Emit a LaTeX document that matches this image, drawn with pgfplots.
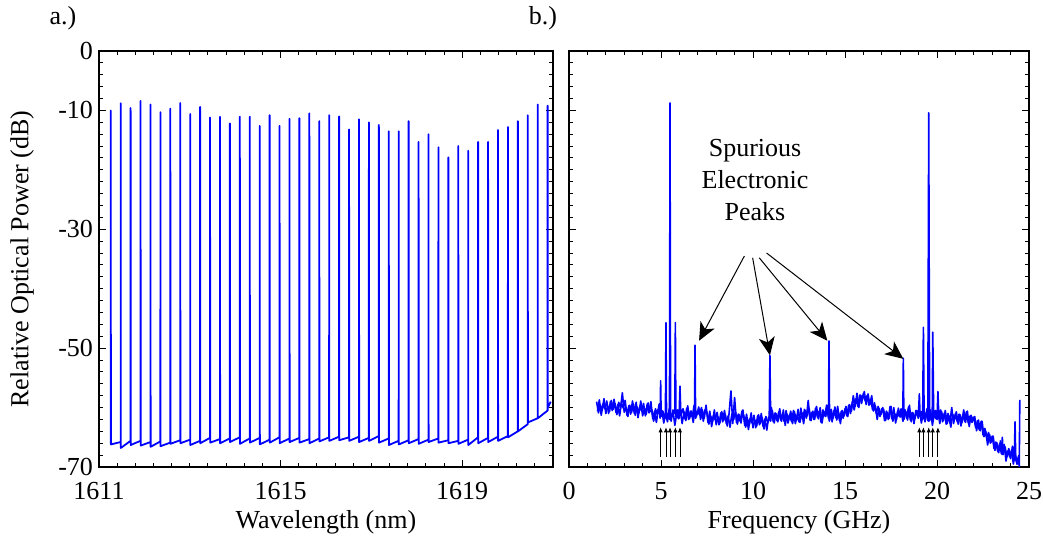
\documentclass[border=0pt]{standalone}
\usepackage{fontspec}
\setmainfont{Liberation Serif}
\usepackage{pgfplots}
\pgfplotsset{compat=1.18}
\usetikzlibrary{arrows.meta}
\definecolor{trace}{RGB}{0,0,255}
\begin{document}
\begin{tikzpicture}[x=1pt,y=1pt,font=\fontsize{13}{15.6}\selectfont]
\useasboundingbox (0,0) rectangle (521.5,272);
\pgfplotsset{
  myaxis/.style={
    anchor=south west, scale only axis, height=208pt,
    ymin=-70, ymax=0,
    tick align=inside, major tick length=3.5pt, minor tick length=2pt,
    every tick/.style={black, line width=0.5pt},
    axis line style={line width=0.8pt},
    ytick={-70,-50,-30,-10,0},
    minor ytick={-68,-66,...,-2},
    xticklabel style={anchor=base, yshift=-16.5pt, inner sep=0pt},
    yticklabel style={anchor=east, xshift=0.5pt},
    x label style={anchor=center, rotate=0},
    y label style={anchor=center},
  }
}
% ---------------- a.) ----------------
\begin{axis}[myaxis,
  at={(49.5pt,38.5pt)}, width=227pt,
  xmin=1611, xmax=1621,
  xtick={1611,1615,1619}, xticklabels={1611,1615,1619},
  minor xtick={1611.4,1611.8,...,1620.7},
  yticklabels={-70,-50,-30,-10,0},
  xlabel={Wavelength (nm)},
  xlabel style={at={(axis description cs:0.5,-0.1322)}},
  ylabel={Relative Optical Power (dB)},
  ylabel style={at={(axis description cs:-0.1696,0.5)}, rotate=0},
]
\addplot[trace, line width=0.9pt, line join=round] coordinates {
(1611.258,-66.2)(1611.259,-10.0)(1611.262,-66.2)
(1611.477,-65.8)(1611.478,-8.8)(1611.481,-66.8)
(1611.695,-65.6)(1611.696,-9.6)(1611.699,-66.3)
(1611.914,-65.6)(1611.915,-8.4)(1611.918,-66.4)
(1612.133,-65.8)(1612.134,-9.0)(1612.137,-66.6)
(1612.352,-65.7)(1612.353,-10.3)(1612.356,-66.5)
(1612.570,-65.9)(1612.571,-9.7)(1612.574,-66.1)
(1612.789,-65.5)(1612.790,-8.75)(1612.793,-66.0)
(1613.008,-65.4)(1613.009,-10.6)(1613.012,-66.3)
(1613.226,-65.6)(1613.227,-9.4)(1613.230,-66.0)
(1613.445,-65.1)(1613.446,-11.2)(1613.449,-65.9)
(1613.664,-65.3)(1613.665,-11.05)(1613.668,-66.0)
(1613.882,-65.2)(1613.883,-12.2)(1613.886,-65.8)
(1614.101,-65.0)(1614.102,-11.05)(1614.105,-66.1)
(1614.320,-65.2)(1614.321,-11.05)(1614.324,-65.9)
(1614.539,-65.1)(1614.540,-12.6)(1614.543,-66.2)
(1614.757,-65.4)(1614.758,-10.8)(1614.761,-65.9)
(1614.976,-65.0)(1614.977,-12.6)(1614.980,-66.0)
(1615.195,-65.2)(1615.196,-11.4)(1615.199,-65.8)
(1615.413,-65.1)(1615.414,-11.3)(1615.417,-65.9)
(1615.632,-65.3)(1615.633,-10.5)(1615.636,-66.0)
(1615.851,-65.2)(1615.852,-11.8)(1615.855,-65.7)
(1616.069,-65.0)(1616.070,-10.8)(1616.073,-65.6)
(1616.288,-64.9)(1616.289,-11.0)(1616.292,-65.5)
(1616.507,-65.0)(1616.508,-13.2)(1616.511,-65.6)
(1616.726,-64.9)(1616.727,-11.5)(1616.730,-65.8)
(1616.944,-65.1)(1616.945,-12.0)(1616.948,-65.6)
(1617.163,-64.8)(1617.164,-12.45)(1617.167,-65.9)
(1617.382,-65.2)(1617.383,-13.5)(1617.386,-66.3)
(1617.600,-65.6)(1617.601,-13.5)(1617.604,-66.2)
(1617.819,-65.5)(1617.820,-11.8)(1617.823,-66.0)
(1618.038,-65.3)(1618.039,-15.3)(1618.042,-66.1)
(1618.256,-65.4)(1618.257,-14.0)(1618.260,-65.8)
(1618.475,-65.2)(1618.476,-16.2)(1618.479,-65.9)
(1618.694,-65.5)(1618.695,-17.9)(1618.698,-66.0)
(1618.913,-65.6)(1618.914,-16.0)(1618.917,-66.1)
(1619.131,-65.4)(1619.132,-16.8)(1619.135,-66.3)
(1619.350,-65.0)(1619.351,-15.3)(1619.354,-66.0)
(1619.569,-65.1)(1619.570,-15.3)(1619.573,-65.8)
(1619.787,-64.9)(1619.788,-13.3)(1619.791,-65.6)
(1620.006,-64.8)(1620.007,-12.8)(1620.010,-65.0)
(1620.225,-64.0)(1620.226,-11.8)(1620.229,-64.0)
(1620.443,-62.8)(1620.444,-10.8)(1620.447,-62.5)
(1620.662,-61.8)(1620.663,-9.0)(1620.666,-61.8)
(1620.881,-60.5)(1620.882,-9.2)(1620.885,-60.0)
(1620.950,-59.0)
};
\end{axis}
% ---------------- b.) ----------------
\begin{axis}[myaxis,
  at={(284.5pt,38.5pt)}, width=230pt,
  xmin=0, xmax=25,
  xtick={0,5,10,15,20,25}, xticklabels={0,5,10,15,20,25},
  minor xtick={1,2,3,4,6,7,8,9,11,12,13,14,16,17,18,19,21,22,23,24},
  yticklabels={},
  xlabel={Frequency (GHz)},
  xlabel style={at={(axis description cs:0.5,-0.1322)}},
]
% second noise sweep of the floor (interleaved samples)
\addplot[trace, line width=0.8pt, line join=round] coordinates {
(1.55,-60.6)(1.65,-58.7)(1.75,-61.3)(1.85,-59.4)(1.95,-60.2)(2.05,-58.9)(2.15,-61.0)(2.25,-59.0)(2.35,-60.5)(2.45,-58.6)
(2.55,-60.8)(2.65,-59.5)(2.75,-61.4)(2.85,-59.2)(2.95,-60.1)(3.05,-58.8)(3.15,-61.3)(3.25,-59.7)(3.35,-61.1)(3.45,-58.9)
(3.55,-61.0)(3.65,-59.1)(3.75,-61.7)(3.85,-59.8)(3.95,-60.6)(4.05,-59.3)(4.15,-61.4)(4.25,-59.4)(4.35,-60.9)(4.45,-59.0)
(4.55,-61.9)(4.65,-60.6)(4.75,-62.5)(4.85,-60.3)(4.95,-61.2)(5.05,-60.5)(5.15,-62.6)(5.25,-61.0)(5.35,-62.4)(5.45,-60.2)
(5.55,-62.3)(5.65,-60.4)(5.75,-63.0)(5.85,-61.1)(5.95,-61.9)(6.05,-60.6)(6.15,-62.7)(6.25,-60.7)(6.35,-62.2)(6.45,-59.7)
(6.55,-61.9)(6.65,-60.6)(6.75,-62.5)(6.85,-60.3)(6.95,-61.2)(7.05,-59.9)(7.15,-62.0)(7.25,-60.4)(7.35,-61.8)(7.45,-59.6)
(7.55,-62.5)(7.65,-60.6)(7.75,-63.2)(7.85,-61.3)(7.95,-62.1)(8.05,-60.8)(8.15,-62.9)(8.25,-60.9)(8.35,-62.4)(8.45,-60.5)
(8.55,-62.7)(8.65,-61.4)(8.75,-63.3)(8.85,-61.1)(8.95,-62.0)(9.05,-60.7)(9.15,-62.8)(9.25,-61.2)(9.35,-62.6)(9.45,-60.4)
(9.55,-63.0)(9.65,-61.1)(9.75,-63.7)(9.85,-61.8)(9.95,-62.6)(10.05,-61.3)(10.15,-63.4)(10.25,-61.4)(10.35,-62.9)(10.45,-61.0)
(10.55,-63.2)(10.65,-61.9)(10.75,-63.8)(10.85,-61.6)(10.95,-61.8)(11.05,-60.5)(11.15,-62.6)(11.25,-61.0)(11.35,-62.4)(11.45,-60.2)
(11.55,-62.3)(11.65,-60.4)(11.75,-63.0)(11.85,-61.1)(11.95,-61.9)(12.05,-60.6)(12.15,-62.7)(12.25,-60.7)(12.35,-62.2)(12.45,-60.3)
(12.55,-62.5)(12.65,-60.8)(12.75,-62.7)(12.85,-60.5)(12.95,-61.4)(13.05,-60.1)(13.15,-62.2)(13.25,-60.6)(13.35,-62.0)(13.45,-59.8)
(13.55,-61.9)(13.65,-60.0)(13.75,-62.6)(13.85,-60.7)(13.95,-61.5)(14.05,-60.2)(14.15,-62.3)(14.25,-60.3)(14.35,-61.8)(14.45,-59.9)
(14.55,-62.1)(14.65,-60.8)(14.75,-62.7)(14.85,-60.5)(14.95,-61.4)(15.05,-59.8)(15.15,-61.5)(15.25,-59.5)(15.35,-60.6)(15.45,-58.0)
(15.55,-59.8)(15.65,-57.6)(15.75,-60.0)(15.85,-57.9)(15.95,-58.6)(16.05,-57.3)(16.15,-59.5)(16.25,-57.7)(16.35,-59.5)(16.45,-58.0)
(16.55,-60.6)(16.65,-59.7)(16.75,-62.0)(16.85,-60.1)(16.95,-61.2)(17.05,-60.0)(17.15,-62.2)(17.25,-60.6)(17.35,-62.0)(17.45,-59.8)
(17.55,-61.9)(17.65,-60.0)(17.75,-62.6)(17.85,-60.7)(17.95,-61.5)(18.05,-60.2)(18.15,-62.3)(18.25,-60.3)(18.35,-61.8)(18.45,-59.9)
(18.55,-62.1)(18.65,-60.8)(18.75,-62.7)(18.85,-60.5)(18.95,-61.4)(19.05,-60.5)(19.15,-62.6)(19.25,-61.0)(19.35,-62.4)(19.45,-60.2)
(19.55,-62.3)(19.65,-60.4)(19.75,-63.0)(19.85,-61.1)(19.95,-61.9)(20.05,-60.6)(20.15,-62.7)(20.25,-60.7)(20.35,-62.2)(20.45,-60.5)
(20.55,-62.7)(20.65,-61.4)(20.75,-63.3)(20.85,-61.1)(20.95,-62.0)(21.05,-60.7)(21.15,-62.8)(21.25,-61.2)(21.35,-62.6)(21.45,-60.4)
(21.55,-62.5)(21.65,-60.6)(21.75,-63.2)(21.85,-61.3)(21.95,-62.1)(22.05,-61.5)(22.15,-63.9)(22.25,-62.1)(22.35,-63.9)(22.45,-62.3)
(22.55,-64.9)(22.65,-64.0)(22.75,-66.3)(22.85,-64.5)(22.95,-65.8)(23.05,-64.8)(23.15,-67.2)(23.25,-65.9)(23.35,-67.6)(23.45,-65.6)
(23.55,-67.9)(23.65,-66.2)(23.75,-69.0)(23.85,-67.3)(23.95,-68.3)(24.05,-67.2)(24.15,-69.5)(24.25,-67.7)(24.35,-69.5)(24.45,-68.0)
};
\addplot[trace, line width=0.8pt, line join=round] coordinates {
(1.5,-59.0)(1.6,-60.9)(1.7,-59.5)(1.8,-60.5)(1.9,-58.5)(2.0,-61.0)(2.1,-59.7)(2.2,-60.7)(2.3,-58.8)(2.4,-60.3)
(2.5,-59.3)(2.6,-61.2)(2.7,-59.1)(2.8,-60.1)(2.9,-57.5)(3.0,-60.8)(3.1,-60.0)(3.2,-61.5)(3.3,-59.6)(3.4,-60.8)
(3.5,-59.4)(3.6,-61.3)(3.7,-59.9)(3.8,-60.9)(3.9,-58.9)(4.0,-61.4)(4.1,-60.1)(4.2,-61.1)(4.3,-59.2)(4.4,-60.7)
(4.5,-60.4)(4.6,-62.3)(4.7,-60.2)(4.8,-61.2)(4.9,-59.4)
(4.95,-61.8)(4.98,-55.5)(5.01,-61.5)(5.1,-60.6)(5.2,-61.9)(5.24,-61.0)(5.27,-45.7)(5.30,-61.5)(5.38,-61.0)
(5.46,-62.0)(5.49,-8.75)(5.52,-62.0)(5.6,-61.2)(5.7,-60.5)(5.75,-61.0)(5.78,-45.7)(5.81,-61.5)(5.9,-60.4)
(5.98,-61.8)(6.03,-56.4)(6.08,-61.3)(6.2,-60.2)(6.3,-61.9)
(6.4,-60.1)(6.5,-62.0)(6.6,-60.6)(6.7,-61.6)(6.8,-59.6)(6.82,-61.5)(6.85,-49.5)(6.88,-61.8)
(7.0,-60.8)(7.1,-61.2)(7.2,-60.0)(7.3,-62.3)(7.4,-60.3)
(7.5,-60.9)(7.6,-62.8)(7.7,-61.4)(7.8,-62.4)(7.9,-60.4)(8.0,-62.9)(8.1,-61.6)(8.2,-62.6)(8.3,-60.7)(8.4,-62.2)
(8.5,-61.2)(8.6,-63.1)(8.7,-61.0)(8.8,-57.2)(8.9,-62.7)(9.0,-58.3)(9.1,-62.5)(9.2,-61.1)(9.3,-62.3)(9.4,-60.6)
(9.5,-61.4)(9.6,-63.3)(9.7,-61.9)(9.8,-62.9)(9.9,-60.9)(10.0,-63.4)(10.1,-62.1)(10.2,-63.1)(10.3,-61.2)(10.4,-62.7)
(10.5,-61.7)(10.6,-63.6)(10.7,-61.5)(10.8,-62.5)(10.88,-62.0)(10.92,-51.2)(10.96,-62.3)
(11.0,-60.0)(11.1,-62.4)(11.2,-60.9)(11.3,-62.2)(11.4,-60.7)(11.5,-62.1)(11.6,-61.2)(11.7,-62.4)(11.8,-60.5)(11.9,-62.6)
(12.0,-61.4)(12.1,-62.4)(12.2,-60.5)(12.3,-62.7)(12.4,-61.4)(12.5,-62.4)
(12.6,-60.1)(12.7,-62.0)(12.8,-60.3)(12.9,-61.8)(13.0,-58.8)(13.1,-62.1)(13.2,-60.8)(13.3,-62.0)(13.4,-60.1)(13.5,-61.6)
(13.6,-60.6)(13.7,-62.5)(13.8,-60.4)(13.9,-61.4)(14.0,-59.6)(14.10,-61.8)(14.13,-48.8)(14.16,-62.0)
(14.2,-60.4)(14.3,-62.4)(14.4,-60.5)(14.5,-61.7)(14.6,-59.8)(14.7,-62.2)(14.8,-60.6)
(14.9,-61.8)(15.0,-60.2)(15.1,-61.4)(15.2,-59.6)(15.3,-61.0)(15.4,-59.0)(15.5,-60.4)(15.6,-58.5)(15.7,-59.8)(15.8,-57.9)
(15.9,-59.3)(16.0,-57.6)(16.1,-58.9)(16.2,-58.0)(16.3,-59.6)(16.4,-58.7)(16.5,-60.4)(16.6,-59.2)(16.7,-61.0)(16.8,-59.8)
(16.9,-61.5)(17.0,-60.2)
(17.1,-60.3)(17.2,-62.2)(17.3,-60.8)(17.4,-61.8)(17.5,-59.8)(17.6,-62.3)(17.7,-61.0)(17.8,-62.0)(17.9,-60.1)(18.0,-61.6)
(18.1,-60.8)(18.14,-62.2)(18.17,-51.7)(18.20,-62.0)
(18.3,-60.6)(18.4,-62.1)(18.5,-59.6)(18.6,-62.4)(18.7,-60.9)(18.8,-61.9)(18.9,-60.5)
(18.98,-61.8)(19.04,-57.7)(19.08,-61.5)(19.16,-60.7)(19.22,-62.0)(19.26,-46.5)(19.30,-61.8)(19.40,-60.9)(19.50,-62.2)
(19.55,-10.4)(19.60,-62.2)(19.70,-61.0)(19.74,-61.8)(19.77,-47.3)(19.82,-61.7)(19.92,-60.5)(20.00,-62.0)(20.05,-57.3)(20.10,-61.6)
(20.2,-60.4)(20.3,-62.4)
(20.4,-60.9)(20.5,-62.8)(20.6,-61.0)(20.7,-62.6)(20.8,-60.0)(20.9,-62.7)(21.0,-61.0)(21.1,-62.4)(21.2,-61.1)(21.3,-63.1)
(21.4,-61.2)(21.5,-62.3)(21.6,-60.7)(21.7,-62.6)(21.8,-61.4)(21.9,-62.5)
(22.0,-61.6)(22.1,-63.4)(22.2,-62.2)(22.3,-63.8)(22.4,-62.3)(22.5,-64.6)(22.6,-63.5)(22.7,-65.1)(22.8,-64.2)(22.9,-66.0)
(23.0,-64.8)(23.1,-66.9)(23.2,-65.8)(23.3,-67.4)(23.4,-66.1)(23.5,-67.8)(23.55,-65.0)(23.6,-67.9)(23.7,-66.6)(23.8,-68.3)
(23.9,-66.9)(24.0,-68.6)(24.1,-66.5)(24.2,-68.9)(24.24,-62.4)(24.28,-68.7)(24.35,-69.5)(24.42,-68.3)(24.47,-70.0)(24.5,-58.7)
};
% small arrows under the peaks
\foreach \f in {4.98,5.27,5.49,5.78,6.03,19.04,19.26,19.55,19.77,20.05}{
  \edef\tmp{\noexpand\draw[-{Latex[length=2.6pt,width=2.2pt]}, line width=0.45pt] (axis cs:\f,-68.3) -- (axis cs:\f,-63.3);}
  \tmp
}
% annotation
\node[align=center, font=\fontsize{13}{16}\selectfont] at (axis cs:10.11,-21.7) {Spurious\\Electronic\\Peaks};
\draw[-{Stealth[length=9pt,width=8pt,inset=2.5pt]}, line width=0.5pt] (axis cs:9.53,-34.5) -- (axis cs:7.07,-48.75);
\draw[-{Stealth[length=9pt,width=8pt,inset=2.5pt]}, line width=0.5pt] (axis cs:9.98,-34.8) -- (axis cs:10.92,-51.2);
\draw[-{Stealth[length=9pt,width=8pt,inset=2.5pt]}, line width=0.5pt] (axis cs:10.34,-34.8) -- (axis cs:14.04,-48.75);
\draw[-{Stealth[length=9pt,width=8pt,inset=2.5pt]}, line width=0.5pt] (axis cs:10.74,-34.0) -- (axis cs:18.17,-51.8);
\end{axis}
\node at (31.5,263) {a.)};
\node at (271.5,263) {b.)};
\end{tikzpicture}
\end{document}
